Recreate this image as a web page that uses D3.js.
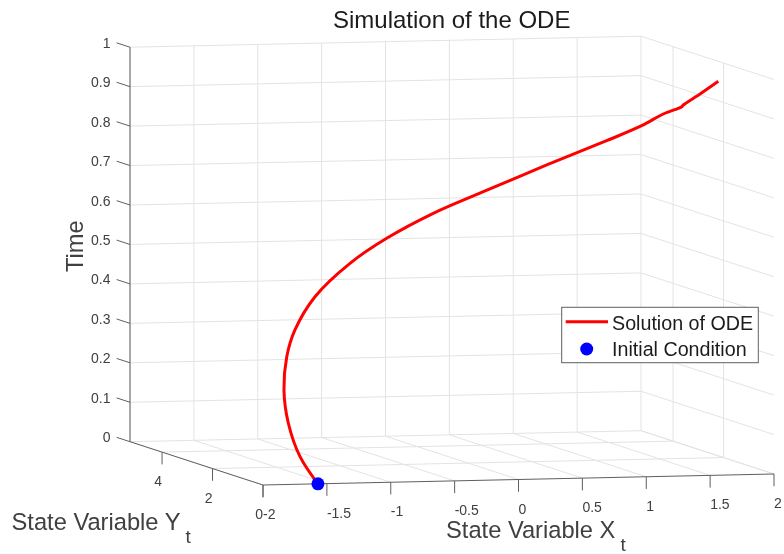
<!DOCTYPE html>
<html>
<head>
<meta charset="utf-8">
<script src="https://cdn.jsdelivr.net/npm/d3@7"></script>
<style>
html,body{margin:0;padding:0;background:#fff;}
svg{display:block;font-family:"Liberation Sans",Arial,sans-serif;}
</style>
</head>
<body>
<svg id="chart" width="784" height="554"></svg>
<script>
const stateX = [-1.57,-1.71,-1.802,-1.836,-1.814,-1.75,-1.593,-1.319,-1.032,-0.667,-0.275,0.221,0.69,0.964,1.133,1.278,1.29,1.421,1.564];
const stateY = [0,0,0,0,0,0,0,0,0,0,0,0,0,0,0,0,0,0,0];
const time   = [0,0.0697,0.1558,0.2397,0.3239,0.3912,0.4745,0.5572,0.6186,0.6794,0.7315,0.7957,0.854,0.8901,0.9186,0.9361,0.9403,0.9673,0.9985];
const xTicks = [-2,-1.5,-1,-0.5,0,0.5,1,1.5,2];
const xTickLabels = ["-2","-1.5","-1","-0.5","0","0.5","1","1.5","2"];
const yTicks = [0,2,4];
const yTickLabels = ["0","2","4"];
const zTicks = [0,0.1,0.2,0.3,0.4,0.5,0.6,0.7,0.8,0.9,1];
const zTickLabels = ["0","0.1","0.2","0.3","0.4","0.5","0.6","0.7","0.8","0.9","1"];
const legendLabels = ["Solution of ODE","Initial Condition"];
const xDomain = [-2,2], yDomain = [0,5.27], zDomain = [0,1];

// oblique projection: each data axis has a horizontal and a vertical pixel scale
const xH = d3.scaleLinear().domain(xDomain).range([263,774]);
const xV = d3.scaleLinear().domain(xDomain).range([485,474]);
const yH = d3.scaleLinear().domain(yDomain).range([0,-133]);
const yV = d3.scaleLinear().domain(yDomain).range([0,-43.3]);
const zV = d3.scaleLinear().domain(zDomain).range([0,-394.5]);
const px = (x,y,z)=>xH(x)+yH(y);
const py = (x,y,z)=>xV(x)+yV(y)+zV(z);

const svg = d3.select("#chart");
const X0=xDomain[0],X1=xDomain[1],Y1=yDomain[1],Z1=zDomain[1];
const seg = (g,a,b,c,w)=>g.append("line")
  .attr("x1",px(...a)).attr("y1",py(...a)).attr("x2",px(...b)).attr("y2",py(...b))
  .attr("stroke",c).attr("stroke-width",w);

const root = svg.append("g").attr("filter","url(#soft)");
svg.append("defs").append("filter").attr("id","soft")
  .attr("x",0).attr("y",0).attr("width",1).attr("height",1).attr("filterUnits","objectBoundingBox")
  .append("feGaussianBlur").attr("stdDeviation",0.35);

const grid = root.append("g");
const gc="#e3e3e3";
xTicks.forEach(x=>{
  seg(grid,[x,Y1,0],[x,Y1,Z1],gc,1);   // back wall
  seg(grid,[x,0,0],[x,Y1,0],gc,1);     // floor
});
yTicks.filter(y=>y>0).forEach(y=>{
  seg(grid,[X0,y,0],[X1,y,0],gc,1);    // floor
  seg(grid,[X1,y,0],[X1,y,Z1],gc,1);   // right wall
});
zTicks.forEach(z=>{
  seg(grid,[X0,Y1,z],[X1,Y1,z],gc,1);  // back wall
  seg(grid,[X1,0,z],[X1,Y1,z],gc,1);   // right wall
});

const axes = root.append("g");
const ac="#5f5f5f";
seg(axes,[X0,Y1,0],[X0,Y1,Z1],ac,1);
seg(axes,[X0,0,0],[X0,Y1,0],ac,1);
seg(axes,[X0,0,0],[X1,0,0],ac,1);
const tickZ=0.031, tickY=0.53;
xTicks.forEach(x=>seg(axes,[x,0,0],[x,0,-tickZ],ac,1));
yTicks.forEach(y=>seg(axes,[X0,y,0],[X0,y,-tickZ],ac,1));
zTicks.forEach(z=>seg(axes,[X0,Y1,z],[X0,Y1+tickY,z],ac,1));

const tc="#404040", tf=14;
const labels = root.append("g").attr("fill",tc).attr("font-size",tf);
labels.selectAll(".xl").data(xTicks).join("text").attr("class","xl")
  .attr("x",d=>px(d,0,0)).attr("y",d=>py(d,0,0)+34)
  .attr("text-anchor","start").text((d,i)=>xTickLabels[i]);
labels.selectAll(".yl").data(yTicks).join("text").attr("class","yl")
  .attr("x",d=>px(X0,d,0)).attr("y",d=>py(X0,d,0)+34)
  .attr("text-anchor","end").text((d,i)=>yTickLabels[i]);
labels.selectAll(".zl").data(zTicks).join("text").attr("class","zl")
  .attr("x",d=>px(X0,Y1,d)-19.5).attr("y",d=>py(X0,Y1,d)+0.5)
  .attr("text-anchor","end").text((d,i)=>zTickLabels[i]);

root.append("text").attr("x",333).attr("y",28.3).attr("font-size",24).attr("fill","#1a1a1a").text("Simulation of the ODE");
const subLabel=(x,y,t,sx,sy)=>{
  root.append("text").attr("x",x).attr("y",y).attr("font-size",23.7).attr("fill",tc).text(t);
  root.append("text").attr("x",sx).attr("y",sy).attr("font-size",19).attr("fill",tc).text("t");
};
subLabel(11.5,530,"State Variable Y",185.5,542.5);
subLabel(446,538,"State Variable X",620.5,550.5);
root.append("text").attr("transform","translate(83.3,272) rotate(-90)").attr("font-size",23.7).attr("fill",tc).text("Time");

const line = d3.line().x(i=>px(stateX[i],stateY[i],time[i])).y(i=>py(stateX[i],stateY[i],time[i])).curve(d3.curveCatmullRom.alpha(0.5));
root.append("path").attr("d",line(d3.range(stateX.length))).attr("fill","none").attr("stroke","#ff0000").attr("stroke-width",3);
root.append("circle").attr("cx",px(stateX[0],stateY[0],time[0])).attr("cy",py(stateX[0],stateY[0],time[0])).attr("r",6.5).attr("fill","#0000ff");

const lg = root.append("g");
lg.append("rect").attr("x",561.7).attr("y",307.3).attr("width",196.6).attr("height",55.4).attr("fill","#fff").attr("stroke","#5f5f5f").attr("stroke-width",1);
lg.append("line").attr("x1",565.7).attr("x2",608).attr("y1",321.7).attr("y2",321.7).attr("stroke","#ff0000").attr("stroke-width",3);
lg.append("circle").attr("cx",586.7).attr("cy",349).attr("r",6.5).attr("fill","#0000ff");
lg.selectAll("text").data(legendLabels).join("text").attr("x",612).attr("y",(d,i)=>i?356.3:330)
  .attr("font-size",19.7).attr("fill","#1a1a1a").text(d=>d);
</script>
</body>
</html>
